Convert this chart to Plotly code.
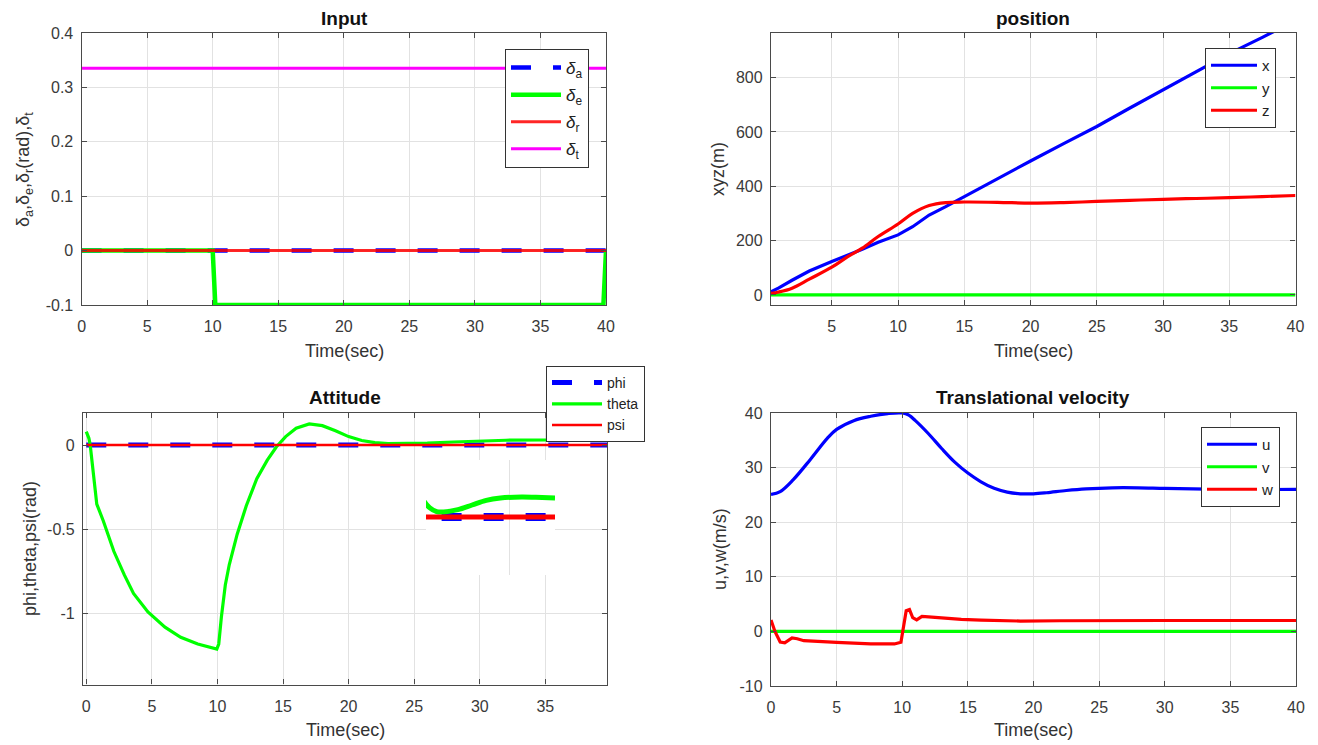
import plotly.graph_objects as go

# ---------------- data ----------------
# Input subplot
t_in = [0, 40]
t_de = [0, 10, 10.2, 39.8, 40]
delta_a = [0, 0]
delta_e = [0, 0, -0.1, -0.1, 0]
delta_r = [0, 0]
delta_t = [0.335, 0.335]

# Position subplot
t_pos = [0.41, 1, 2, 3.3, 5, 6.2, 7.3, 8.5, 10, 11.1, 12.35, 13.6, 15, 17.5,
         20, 22.5, 25, 27.5, 30, 32.5, 35, 37.5, 40]
pos_x = [12, 26, 54, 88, 123, 145, 168, 194, 221, 251, 294, 325, 362, 429,
         493, 557, 620, 688, 755, 822, 888, 948, 1010]
pos_y = [0] * len(t_pos)
pos_z = [6, 11, 25, 58, 102, 141, 172, 215, 261, 300, 329, 340, 342, 341,
         338, 340, 344, 348, 352, 355, 358, 362, 366]

# Attitude subplot
t_att = [0.0, 0.2, 0.3, 0.55, 0.8, 1.3, 2.1, 2.9, 3.6, 4.7, 6.0, 7.2, 8.5, 9.95,
         10.1, 10.3, 10.6, 10.9, 11.5, 12.2, 13.0, 13.8, 14.5, 15.2, 16.0, 17.0,
         18.0, 19.0, 20.0, 21.0, 22.0, 23.0, 24.0, 26.0, 28.0, 30.0, 32.0, 35.0,
         37.0, 39.7]
theta = [0.08, 0.04, 0.0, -0.19, -0.35, -0.45, -0.63, -0.77, -0.88, -0.99,
         -1.08, -1.14, -1.18, -1.21, -1.18, -1.02, -0.83, -0.71, -0.53, -0.36,
         -0.2, -0.09, -0.01, 0.05, 0.1, 0.125, 0.115, 0.085, 0.05, 0.027, 0.014,
         0.008, 0.0075, 0.011, 0.018, 0.025, 0.0285, 0.03, 0.0295, 0.0285]
phi = [0.0] * len(t_att)
psi = [0.0] * len(t_att)

# Translational velocity subplot
t_u = [0, 0.7, 1.7, 3.0, 4.3, 5.0, 6.3, 7.6, 8.9, 10.0, 10.5, 11.0, 12.0, 13.0,
       14.0, 15.0, 16.0, 17.0, 18.0, 19.0, 20.0, 21.0, 22.5, 24.0, 26.0, 28.0,
       30.0, 35.0, 40.0]
vel_u = [25.1, 25.6, 27.8, 31.5, 35.4, 37.0, 38.6, 39.4, 39.9, 40.0, 39.6, 38.6,
         36.2, 33.5, 31.0, 29.0, 27.4, 26.2, 25.5, 25.2, 25.2, 25.4, 25.8, 26.1,
         26.3, 26.3, 26.2, 26.0, 26.0]
t_w = [0, 0.3, 0.7, 1.05, 1.6, 2.0, 2.5, 3.5, 5.0, 7.6, 9.4, 9.9, 10.1, 10.3,
       10.55, 10.8, 11.1, 11.5, 12.0, 13.0, 14.5, 16.0, 18.0, 19.0, 22.0, 26.0,
       30.0, 40.0]
vel_w = [2.1, 0.0, -1.95, -2.1, -1.2, -1.35, -1.7, -1.85, -2.0, -2.3, -2.3, -2.0,
         1.2, 3.8, 4.0, 2.5, 2.1, 2.75, 2.65, 2.45, 2.2, 2.05, 1.95, 1.9, 1.95,
         2.0, 2.0, 2.0]
t_v = [0, 40]
vel_v = [0, 0]

# tick labels
in_xticks = [0, 5, 10, 15, 20, 25, 30, 35, 40]
in_yticks = [-0.1, 0, 0.1, 0.2, 0.3, 0.4]
in_yticktext = ["-0.1", "0", "0.1", "0.2", "0.3", "0.4"]
pos_xticks = [5, 10, 15, 20, 25, 30, 35, 40]
pos_yticks = [0, 200, 400, 600, 800]
att_xticks = [0, 5, 10, 15, 20, 25, 30, 35]
att_yticks = [-1, -0.5, 0]
att_yticktext = ["-1", "-0.5", "0"]
vel_xticks = [0, 5, 10, 15, 20, 25, 30, 35, 40]
vel_yticks = [-10, 0, 10, 20, 30, 40]
vel_yticktext = ["-10", "0", "10", "20", "30", "40"]

# ---------------- style ----------------
BLUE, GREEN, RED, MAG = "#0000ff", "#00ff00", "#ff0000", "#ff00ff"
FONT = "Liberation Sans, Arial, sans-serif"
W, H = 1318, 745

fig = go.Figure()

# Input
fig.add_trace(go.Scatter(x=t_in, y=delta_a, mode="lines", name="<i>δ</i><sub>a</sub>",
                         line=dict(color=BLUE, width=4.5, dash="20px,22px"),
                         xaxis="x", yaxis="y", legend="legend", legendgroup="a"))
fig.add_trace(go.Scatter(x=t_de, y=delta_e, mode="lines", name="<i>δ</i><sub>e</sub>",
                         line=dict(color=GREEN, width=4.5),
                         xaxis="x", yaxis="y", legend="legend", legendgroup="e"))
fig.add_trace(go.Scatter(x=t_in, y=delta_r, mode="lines", name="<i>δ</i><sub>r</sub>",
                         line=dict(color=RED, width=3), opacity=0.85,
                         xaxis="x", yaxis="y", legend="legend", legendgroup="r"))
fig.add_trace(go.Scatter(x=t_in, y=delta_t, mode="lines", name="<i>δ</i><sub>t</sub>",
                         line=dict(color=MAG, width=3),
                         xaxis="x", yaxis="y", legend="legend", legendgroup="t"))

# Position
fig.add_trace(go.Scatter(x=t_pos, y=pos_x, mode="lines", name="x",
                         line=dict(color=BLUE, width=3.2), xaxis="x2", yaxis="y2",
                         legend="legend2", legendgroup="px"))
fig.add_trace(go.Scatter(x=t_pos, y=pos_y, mode="lines", name="y",
                         line=dict(color=GREEN, width=3.2), xaxis="x2", yaxis="y2",
                         legend="legend2", legendgroup="py"))
fig.add_trace(go.Scatter(x=t_pos, y=pos_z, mode="lines", name="z", line_shape="spline",
                         line=dict(color=RED, width=3.2), xaxis="x2", yaxis="y2",
                         legend="legend2", legendgroup="pz"))

# Attitude
fig.add_trace(go.Scatter(x=t_att, y=phi, mode="lines", name="phi",
                         line=dict(color=BLUE, width=5, dash="20px,22px"),
                         xaxis="x3", yaxis="y3", legend="legend3", legendgroup="phi"))
fig.add_trace(go.Scatter(x=t_att, y=theta, mode="lines", name="theta",
                         line=dict(color=GREEN, width=3.2), xaxis="x3", yaxis="y3",
                         legend="legend3", legendgroup="theta"))
fig.add_trace(go.Scatter(x=t_att, y=psi, mode="lines", name="psi",
                         line=dict(color=RED, width=2.5), xaxis="x3", yaxis="y3",
                         legend="legend3", legendgroup="psi"))

# Attitude inset (zoomed view)
fig.add_trace(go.Scatter(x=t_att, y=phi, mode="lines", showlegend=False,
                         line=dict(color=BLUE, width=8, dash="20px,22px"),
                         xaxis="x5", yaxis="y5"))
fig.add_trace(go.Scatter(x=t_att, y=theta, mode="lines", showlegend=False, line_shape="spline",
                         line=dict(color=GREEN, width=5), xaxis="x5", yaxis="y5"))
fig.add_trace(go.Scatter(x=t_att, y=psi, mode="lines", showlegend=False,
                         line=dict(color=RED, width=5), xaxis="x5", yaxis="y5"))

# Velocity
fig.add_trace(go.Scatter(x=t_u, y=vel_u, mode="lines", name="u", line_shape="spline",
                         line=dict(color=BLUE, width=3.2), xaxis="x4", yaxis="y4",
                         legend="legend4", legendgroup="u"))
fig.add_trace(go.Scatter(x=t_v, y=vel_v, mode="lines", name="v",
                         line=dict(color=GREEN, width=3.2), xaxis="x4", yaxis="y4",
                         legend="legend4", legendgroup="v"))
fig.add_trace(go.Scatter(x=t_w, y=vel_w, mode="lines", name="w",
                         line=dict(color=RED, width=3.2), xaxis="x4", yaxis="y4",
                         legend="legend4", legendgroup="w"))

AXC = "#4a4a4a"
GRID = "#e2e2e2"
TICKF = dict(family=FONT, size=16, color="#3a3a3a")


def xax(domain, rng, ticks, anchor):
    return dict(domain=domain, range=rng, tickvals=ticks, anchor=anchor,
                showline=True, linecolor=AXC, linewidth=1.3, mirror="ticks",
                ticks="inside", ticklen=5, tickcolor=AXC, showgrid=True,
                gridcolor=GRID, gridwidth=1, zeroline=False, tickfont=TICKF,
                ticklabelstandoff=7, automargin=False)


def yax(domain, rng, ticks, anchor, text=None):
    d = dict(domain=domain, range=rng, tickvals=ticks, anchor=anchor,
             showline=True, linecolor=AXC, linewidth=1.3, mirror="ticks",
             ticks="inside", ticklen=5, tickcolor=AXC, showgrid=True,
             gridcolor=GRID, gridwidth=1, zeroline=False, tickfont=TICKF,
             ticklabelstandoff=4, automargin=False)
    if text is not None:
        d["ticktext"] = text
    return d


def px(x):
    return x / W


def py(y):
    return 1 - y / H


dx_left = [px(81.6), px(606)]
dx_right = [px(771), px(1295.5)]
dy_top = [py(305), py(33)]

legend_common = dict(xanchor="left", yanchor="top", bgcolor="white",
                     bordercolor="#333333", borderwidth=1,
                     font=dict(family=FONT, size=15, color="#222222"))

fig.update_layout(
    width=W, height=H, margin=dict(l=0, r=0, t=0, b=0, pad=0, autoexpand=False),
    paper_bgcolor="white", plot_bgcolor="white",
    font=dict(family=FONT, color="#222222"),
    xaxis=xax(dx_left, [0, 40], in_xticks, "y"),
    yaxis=yax(dy_top, [-0.1, 0.4], in_yticks, "x", in_yticktext),
    xaxis2=xax(dx_right, [0.41, 40], pos_xticks, "y2"),
    yaxis2=yax(dy_top, [-37, 964], pos_yticks, "x2"),
    xaxis3=xax([px(83), px(607)], [-0.25, 39.7], att_xticks, "y3"),
    yaxis3=yax([py(684.5), py(413)], [-1.42, 0.19], att_yticks, "x3", att_yticktext),
    xaxis4=xax([px(771), px(1296)], [0, 40], vel_xticks, "y4"),
    yaxis4=yax([py(686), py(413)], [-10, 40], vel_yticks, "x4", vel_yticktext),
    xaxis5=dict(domain=[px(426), px(555)], range=[21.5, 39.7], anchor="y5",
                showline=False, showticklabels=False, ticks="", tickvals=[33.35],
                showgrid=True, gridcolor=GRID, zeroline=False, automargin=False),
    yaxis5=dict(domain=[py(575), py(460)], range=[-0.087, 0.0855], anchor="x5",
                showline=False, showticklabels=False, ticks="", showgrid=False,
                zeroline=False, automargin=False),
    legend=dict(legend_common, x=px(505), y=py(49), tracegroupgap=2, itemwidth=50,
                font=dict(family=FONT, size=17, color="#222222")),
    legend2=dict(legend_common, x=px(1205), y=py(48), tracegroupgap=0, itemwidth=46),
    legend3=dict(legend_common, x=px(546), y=py(366), tracegroupgap=0, itemwidth=50,
                 font=dict(family=FONT, size=14, color="#222222")),
    legend4=dict(legend_common, x=px(1201), y=py(427), tracegroupgap=0, itemwidth=50),
    showlegend=True,
)

ann = []
TITLEF = dict(family=FONT, size=19, color="#111111")
LABF = dict(family=FONT, size=18, color="#333333")
for txt, x, y in [("<b>Input</b>", 344, 18), ("<b>position</b>", 1033, 18),
                  ("<b>Attitude</b>", 345, 397), ("<b>Translational velocity</b>", 1033, 397)]:
    ann.append(dict(text=txt, x=px(x), y=py(y), xref="paper", yref="paper",
                    showarrow=False, xanchor="center", yanchor="middle", font=TITLEF))
for x, y in [(344, 351), (1033, 351), (345, 730), (1033, 730)]:
    ann.append(dict(text="Time(sec)", x=px(x), y=py(y), xref="paper", yref="paper",
                    showarrow=False, xanchor="center", yanchor="middle", font=LABF))
for txt, x, y in [("δ<sub>a</sub>,δ<sub>e</sub>,δ<sub>r</sub>(rad),δ<sub>t</sub>", 24, 170),
                  ("xyz(m)", 718, 169), ("phi,theta,psi(rad)", 30, 549),
                  ("u,v,w(m/s)", 720, 549)]:
    ann.append(dict(text=txt, x=px(x), y=py(y), xref="paper", yref="paper",
                    showarrow=False, xanchor="center", yanchor="middle", textangle=-90,
                    font=dict(family=FONT, size=18, color="#333333")))
fig.update_layout(annotations=ann)

fig.write_html("out.html")
